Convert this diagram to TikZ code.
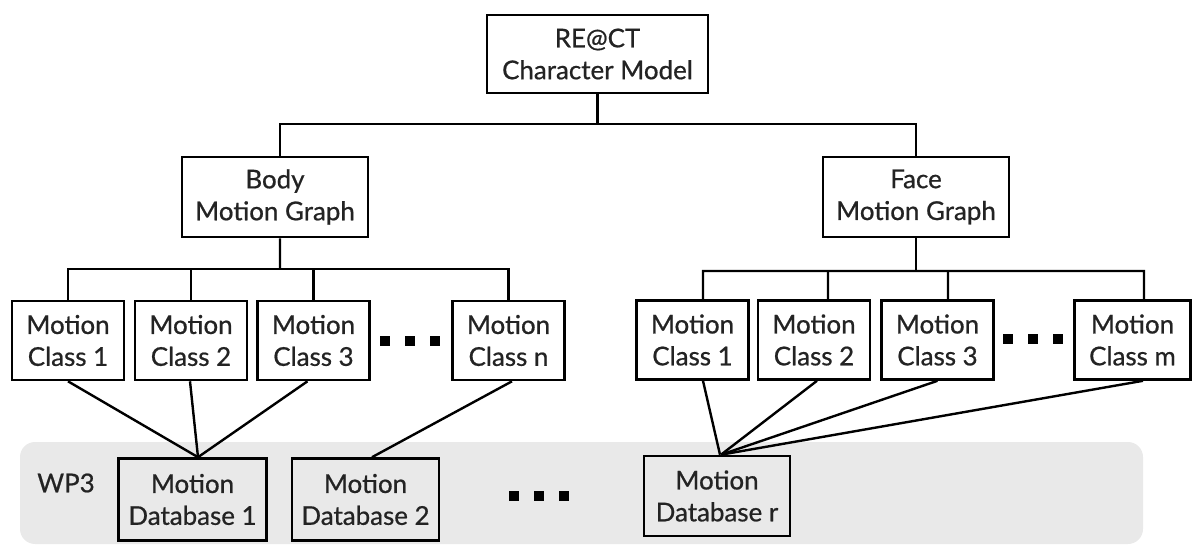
\documentclass[tikz,border=0pt]{standalone}
\usepackage{fontspec}
\setmainfont{Lato}[FakeBold=0.7]
\usetikzlibrary{calc}
\definecolor{band}{RGB}{233,233,233}
\definecolor{ink}{RGB}{35,35,35}
\begin{document}
\begin{tikzpicture}[x=1bp,y=-1bp,
  txt/.style={text=ink, font=\fontsize{26}{32}\selectfont},
  box/.style={draw=black, line width=2.6bp, txt, align=center, inner sep=0pt},
  graphbox/.style={box, fill=white, minimum width=186bp, minimum height=80bp},
  topbox/.style={box, fill=white, minimum width=221bp, minimum height=78bp},
  clsbox/.style={box, fill=white, minimum width=112bp, minimum height=79bp},
  dbbox/.style={box, minimum width=148bp, minimum height=82bp},
  link/.style={draw=black, line width=2.4bp},
  dotrow/.style={inner sep=0pt, text=black}
]
\useasboundingbox (0,0) rectangle (1192,545);
% WP3 band
\fill[band, rounded corners=15bp] (20,442) rectangle (1143,544);
\node[txt] (wp3) at (66,483) {WP3};

% nodes
\node[topbox] (top) at (597.5,54) {RE@CT\\Character Model};
\node[graphbox] (body) at (275,197) {Body\\Motion Graph};
\node[graphbox] (face) at (916,197) {Face\\Motion Graph};

\node[clsbox] (c1) at (68,340.5) {Motion\\Class 1};
\node[clsbox] (c2) at (191,340.5) {Motion\\Class 2};
\node[clsbox] (c3) at (313.5,340.5) {Motion\\Class 3};
\node[clsbox] (cn) at (508.5,340.5) {Motion\\Class n};

\node[clsbox] (f1) at (692.5,340) {Motion\\Class 1};
\node[clsbox] (f2) at (814,340) {Motion\\Class 2};
\node[clsbox] (f3) at (937.5,340) {Motion\\Class 3};
\node[clsbox, minimum width=116bp] (fm) at (1132.5,340) {Motion\\Class m};

\node[dbbox] (db1) at (192.5,499.5) {Motion\\Database 1};
\node[dbbox, minimum width=147bp] (db2) at (365.5,499.5) {Motion\\Database 2};
\node[dbbox, minimum width=146bp, minimum height=80bp] (dbr) at (717,496) {Motion\\Database r};

\newcommand{\sqdots}{\rule{10bp}{10bp}\hspace{15bp}\rule{10bp}{10bp}\hspace{15bp}\rule{10bp}{10bp}}
\node[dotrow] (bdots) at (410,341) {\sqdots};
\node[dotrow] (fdots) at (1033,339) {\sqdots};
\node[dotrow] (mdots) at (539,495.5) {\sqdots};

% top level tree
\coordinate (j0) at (597.5,124);
\draw[link] (top.south) -- (j0);
\draw[link] ([xshift=5bp]body.north) |- (j0) -| (face.north);

% body tree
\coordinate (jb) at (280,269);
\draw[link] ([xshift=5bp]body.south) -- (jb);
\draw[link] (c1.north) |- (jb) -| (cn.north);
\draw[link] (c2.north) -- (c2.north |- jb);
\draw[link] (c3.north) -- (c3.north |- jb);

% face tree
\coordinate (jf) at (916,271);
\draw[link] (face.south) -- (jf);
\draw[link] ([xshift=10.5bp]f1.north) -- ($(f1.north |- jf)+(10.5,0)$) -- ($(fm.north |- jf)+(11.5,0)$) -- ([xshift=11.5bp]fm.north);
\draw[link] ([xshift=14bp]f2.north) -- ($(f2.north |- jf)+(14,0)$);
\draw[link] ([xshift=10.5bp]f3.north) -- ($(f3.north |- jf)+(10.5,0)$);

% class to database links
\draw[link] (c1.south) -- ([xshift=5.5bp]db1.north);
\draw[link] ([xshift=-1bp]c2.south) -- ([xshift=5.5bp]db1.north);
\draw[link] ([xshift=-6bp]c3.south) -- ([xshift=5.5bp]db1.north);
\draw[link] ([xshift=3.5bp]cn.south) -- ([xshift=6.5bp]db2.north);

\draw[link] ([xshift=10.5bp]f1.south) -- ([xshift=3bp]dbr.north);
\draw[link] ([xshift=3bp]f2.south) -- ([xshift=4bp]dbr.north);
\draw[link] (f3.south) -- ([xshift=4bp]dbr.north);
\draw[link] ([xshift=10.5bp]fm.south) -- ([xshift=4bp]dbr.north);
\end{tikzpicture}
\end{document}
